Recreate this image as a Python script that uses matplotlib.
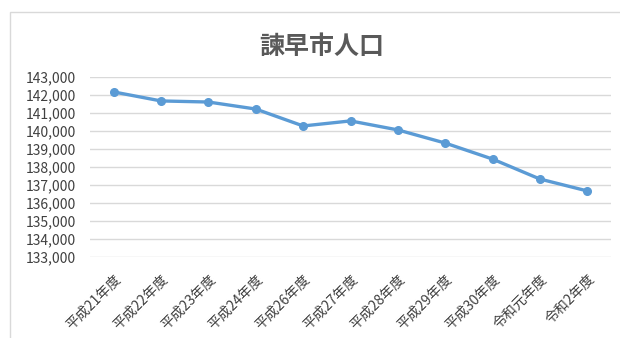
import matplotlib
matplotlib.use("Agg")
import matplotlib.pyplot as plt
from matplotlib.patches import Rectangle
from matplotlib.ticker import FuncFormatter

plt.rcParams['font.family'] = ['Noto Sans CJK JP', 'DejaVu Sans']

years = ["平成21年度", "平成22年度", "平成23年度", "平成24年度", "平成26年度",
         "平成27年度", "平成28年度", "平成29年度", "平成30年度", "令和元年度", "令和2年度"]
population = [142170, 141670, 141610, 141220, 140280, 140560,
              140060, 139330, 138440, 137330, 136670]
y_ticks = list(range(133000, 144000, 1000))

W, H = 620, 338
fig = plt.figure(figsize=(W / 100, H / 100), dpi=100)
fig.patch.set_facecolor("white")

# chart-area border
fig.patches.append(Rectangle((10 / W, -0.1), 1.2, 1 - 12 / H + 0.1,
                             transform=fig.transFigure, fill=False,
                             edgecolor="#D9D9D9", linewidth=1.0))

ax = fig.add_axes([90 / W, 1 - 257 / H, (611 - 90) / W, (257 - 77) / H])
ax.plot(range(len(years)), population, color="#5B9BD5", linewidth=2.4,
        marker="o", markersize=5.5, zorder=3)

ax.set_xlim(-0.5, len(years) - 0.5)
ax.set_ylim(y_ticks[0], y_ticks[-1])
ax.set_yticks(y_ticks)
ax.yaxis.set_major_formatter(FuncFormatter(lambda v, p: f"{int(v):,}"))
ax.grid(axis="y", color="#D9D9D9", linewidth=1.0)
ax.set_axisbelow(True)
for s in ax.spines.values():
    s.set_visible(False)
ax.tick_params(axis="both", length=0, colors="#404040", labelsize=10)
ax.tick_params(axis="y", pad=10)

ax.set_xticks(range(len(years)))
ax.set_xticklabels(years, rotation=45, ha="right", rotation_mode="anchor",
                   fontsize=10, color="#404040")
ax.tick_params(axis="x", pad=11)

fig.text(322 / W, 1 - 47 / H, "諫早市人口", ha="center", va="center",
         fontsize=18, color="#595959", fontweight="bold")

fig.savefig("out.png", dpi=100)
